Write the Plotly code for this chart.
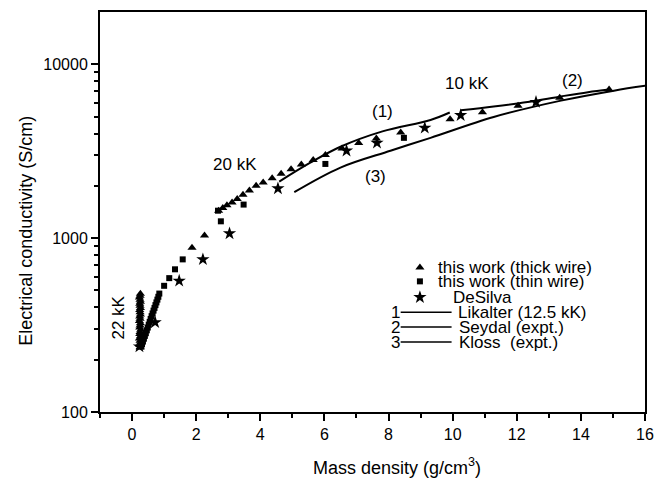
import plotly.graph_objects as go
import math

# ---------------- data ----------------
thick_x = [0.25, 0.24, 0.26, 0.25, 0.23, 0.26, 0.24, 0.25, 0.27, 0.24, 0.25, 0.26, 0.23, 0.25, 0.24, 0.26,
           0.25, 0.24, 0.26, 0.25, 0.24, 0.26, 0.25, 0.23, 0.25, 0.26,
           1.87, 2.26, 2.70, 2.83, 2.96, 3.12, 3.28, 3.46, 3.66, 3.87, 4.09, 4.37, 4.65, 4.96, 5.28, 5.65,
           6.03, 6.55, 7.07, 7.62, 8.38, 9.92, 10.93, 12.04, 13.34, 14.88]
thick_y = [236, 243, 250, 257, 265, 273, 281, 289, 297, 306, 315, 324, 334, 344, 354, 364,
           375, 386, 397, 408, 419, 431, 443, 455, 467, 479,
           880, 1035, 1439, 1490, 1545, 1606, 1678, 1778, 1880, 2000, 2089, 2213, 2344, 2489, 2649, 2818,
           3010, 3283, 3524, 3743, 4055, 4831, 5300, 5780, 6413, 7170]

thin_x = [0.29, 0.31, 0.34, 0.37, 0.40, 0.43, 0.46, 0.49, 0.52, 0.55, 0.58, 0.61, 0.64, 0.67, 0.70,
          0.73, 0.76, 0.79, 0.82, 0.85,
          1.00, 1.16, 1.34, 1.58, 2.68, 2.77, 3.48, 6.03, 8.48]
thin_y = [238, 246, 255, 264, 274, 284, 295, 306, 318, 330, 343, 356, 369, 383, 397,
          412, 427, 443, 460, 480,
          532, 589, 662, 755, 1439, 1250, 1560, 2673, 3777]

desilva_x = [0.23, 0.72, 1.47, 2.21, 3.04, 4.55, 6.69, 7.64, 9.13, 10.25, 12.60]
desilva_y = [238, 328, 568, 755, 1064, 1930, 3184, 3530, 4307, 5093, 6067]

likalter_x = [4.59, 5.56, 6.50, 7.81, 9.31, 9.91]
likalter_y = [2117, 2718, 3357, 4115, 4786, 5284]

seydal_x = [10.25, 11.28, 12.34, 13.38, 14.22, 14.88]
seydal_y = [5436, 5715, 6067, 6538, 6918, 7167]

kloss_x = [5.06, 6.50, 8.06, 9.31, 11.28, 13.38, 15.03, 16.03]
kloss_y = [1839, 2547, 3184, 3777, 4980, 6182, 7057, 7536]

legend_labels = ["this work (thick wire)", "this work (thin wire)", "DeSilva",
                 "Likalter (12.5 kK)", "Seydal (expt.)", "Kloss  (expt.)"]

x_ticks = list(range(0, 17, 2))
y_ticks = [100, 1000, 10000]

FONT = "Liberation Sans, Arial, sans-serif"
BLK = "#000000"

fig = go.Figure()

fig.add_trace(go.Scatter(x=thick_x, y=thick_y, mode="markers",
                         marker=dict(symbol="triangle-up", size=8, color=BLK, line=dict(width=0)),
                         showlegend=False))
fig.add_trace(go.Scatter(x=thin_x, y=thin_y, mode="markers",
                         marker=dict(symbol="square", size=6, color=BLK, line=dict(width=0)),
                         showlegend=False))
fig.add_trace(go.Scatter(x=desilva_x, y=desilva_y, mode="markers",
                         marker=dict(symbol="star", size=10, color=BLK, line=dict(width=0)),
                         showlegend=False))
for lx, ly in [(likalter_x, likalter_y), (seydal_x, seydal_y), (kloss_x, kloss_y)]:
    fig.add_trace(go.Scatter(x=lx, y=ly, mode="lines", line=dict(color=BLK, width=2, shape="spline"),
                             showlegend=False))

# ---------- custom legend (overlay axes spanning the plot area) ----------
leg_sym_x = 0.587
leg_rows = [0.3615, 0.3266, 0.2868, 0.2495, 0.2122, 0.1749]
fig.add_trace(go.Scatter(x=[leg_sym_x], y=[leg_rows[0]], xaxis="x2", yaxis="y2", mode="markers",
                         marker=dict(symbol="triangle-up", size=8, color=BLK), showlegend=False))
fig.add_trace(go.Scatter(x=[leg_sym_x], y=[leg_rows[1]], xaxis="x2", yaxis="y2", mode="markers",
                         marker=dict(symbol="square", size=6, color=BLK), showlegend=False))
fig.add_trace(go.Scatter(x=[leg_sym_x], y=[leg_rows[2]], xaxis="x2", yaxis="y2", mode="markers",
                         marker=dict(symbol="star", size=10, color=BLK), showlegend=False))

annotations = []
text_x = [0.6165, 0.6165, 0.6440, 0.6532, 0.6556, 0.6556]
for i, lab_txt in enumerate(legend_labels):
    annotations.append(dict(x=text_x[i], y=leg_rows[i], xref="paper", yref="paper", text=lab_txt,
                            showarrow=False, xanchor="left", yanchor="middle",
                            font=dict(family=FONT, size=17, color=BLK)))
shapes = []
for k in range(3):
    yy = leg_rows[3 + k]
    annotations.append(dict(x=0.5413, y=yy, xref="paper", yref="paper", text=str(k + 1),
                            showarrow=False, xanchor="center", yanchor="middle",
                            font=dict(family=FONT, size=17, color=BLK)))
    shapes.append(dict(type="line", xref="paper", yref="paper", x0=0.5517, x1=0.6451, y0=yy, y1=yy,
                       line=dict(color=BLK, width=1.5)))

# ---------- axis titles (placed as in the reference) ----------
annotations.append(dict(x=-0.136, y=0.4527, xref="paper", yref="paper",
                        text="Electrical conductivity (S/cm)", textangle=-90, showarrow=False,
                        xanchor="center", yanchor="middle", font=dict(family=FONT, size=18, color=BLK)))
annotations.append(dict(x=0.545, y=-0.137, xref="paper", yref="paper",
                        text="Mass density (g/cm<sup>3</sup>)", showarrow=False,
                        xanchor="center", yanchor="middle", font=dict(family=FONT, size=18, color=BLK)))

# ---------- in-plot labels ----------
def lab(x, ylog, text, angle=0):
    return dict(x=x, y=ylog, xref="x", yref="y", text=text, showarrow=False, textangle=angle,
                font=dict(family=FONT, size=17, color=BLK))

annotations += [
    lab(7.81, 3.726, "(1)"),
    lab(7.59, 3.354, "(3)"),
    lab(13.74, 3.907, "(2)"),
    lab(10.46, 3.887, "10 kK"),
    lab(3.22, 3.421, "20 kK"),
    lab(-0.43, 2.545, "22 kK", angle=-90),
]

fig.update_layout(
    width=669, height=483,
    margin=dict(l=100, r=24, t=10, b=71),
    paper_bgcolor="white", plot_bgcolor="white",
    font=dict(family=FONT, size=16, color=BLK),
    showlegend=False,
    annotations=annotations,
    shapes=shapes,
    xaxis=dict(range=[-1, 16], tickvals=x_ticks, ticks="outside", ticklen=7, tickwidth=1.5,
               tickcolor=BLK, showline=True, linecolor=BLK, linewidth=2, mirror=True,
               showgrid=False, zeroline=False, tickfont=dict(family=FONT, size=16),
               minor=dict(dtick=1, ticks="outside", ticklen=4, tickwidth=1.5, tickcolor=BLK, showgrid=False)),
    yaxis=dict(type="log", range=[2, math.log10(20000)], tickvals=y_ticks,
               ticktext=[str(v) for v in y_ticks], ticks="outside", ticklen=7, tickwidth=1.5,
               tickcolor=BLK, showline=True, linecolor=BLK, linewidth=2, mirror=True,
               showgrid=False, zeroline=False, tickfont=dict(family=FONT, size=16),
               minor=dict(tickvals=[m * d for d in (100, 1000) for m in range(2, 10)],
                          ticks="outside", ticklen=4, tickwidth=1.5, tickcolor=BLK, showgrid=False)),
    xaxis2=dict(overlaying="x", range=[0, 1], visible=False),
    yaxis2=dict(overlaying="y", range=[0, 1], visible=False),
)

fig.write_html("out.html")
